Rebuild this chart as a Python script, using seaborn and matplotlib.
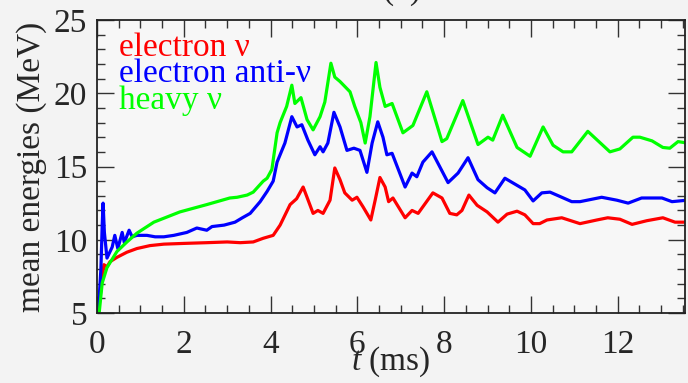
import numpy as np
import pandas as pd
import matplotlib
matplotlib.use("Agg")
import matplotlib.pyplot as plt
import seaborn as sns
from matplotlib.ticker import MultipleLocator

# ---- data ----
labels = ["electron \u03bd", "electron anti-\u03bd", "heavy \u03bd"]
colors = ["#ff0000", "#0000ff", "#00ff00"]

t_e = [0.03, 0.12, 0.16, 0.23, 0.30, 0.46, 0.69, 0.92, 1.22, 1.54, 2.0, 2.53, 3.0, 3.3,
       3.6, 3.83, 4.06, 4.22, 4.45, 4.6, 4.75, 4.84, 4.98, 5.09, 5.21, 5.37, 5.48, 5.6,
       5.71, 5.88, 5.99, 6.13, 6.31, 6.41, 6.52, 6.64, 6.72, 6.82, 7.1, 7.26, 7.4, 7.74,
       7.95, 8.13, 8.29, 8.41, 8.57, 8.76, 8.99, 9.24, 9.45, 9.68, 9.86, 10.05, 10.2,
       10.37, 10.71, 11.13, 11.52, 11.77, 12.05, 12.33, 12.67, 13.04, 13.32, 13.6]
E_e = [5.0, 7.4, 8.3, 8.15, 8.5, 8.8, 9.15, 9.4, 9.6, 9.7, 9.75, 9.8, 9.85, 9.8,
       9.85, 10.1, 10.3, 11.0, 12.4, 12.8, 13.6, 12.9, 11.8, 12.0, 11.8, 12.7, 14.9, 14.1,
       13.2, 12.7, 12.9, 12.25, 11.35, 12.7, 14.25, 13.6, 12.6, 12.85, 11.5, 12.0, 11.8, 13.2,
       12.85, 11.8, 11.7, 12.0, 13.05, 12.35, 11.9, 11.2, 11.75, 11.95, 11.7, 11.1, 11.1,
       11.35, 11.5, 11.1, 11.35, 11.5, 11.4, 11.05, 11.3, 11.5, 11.2, 11.2]

t_a = [0.03, 0.09, 0.12, 0.14, 0.17, 0.23, 0.35, 0.41, 0.48, 0.58, 0.63, 0.74, 0.81, 0.92,
       1.15, 1.34, 1.54, 1.77, 2.07, 2.3, 2.53, 2.65, 2.93, 3.18, 3.35, 3.53, 3.76, 3.92,
       4.06, 4.15, 4.33, 4.49, 4.61, 4.72, 4.86, 5.02, 5.14, 5.21, 5.32, 5.46, 5.6, 5.76,
       5.92, 6.06, 6.22, 6.34, 6.47, 6.59, 6.68, 6.8, 7.1, 7.26, 7.37, 7.51, 7.72, 8.09,
       8.32, 8.55, 8.78, 8.99, 9.17, 9.4, 9.86, 10.05, 10.25, 10.44, 10.71, 10.94, 11.13,
       11.63, 11.98, 12.24, 12.55, 13.02, 13.25, 13.6]
E_a = [5.0, 8.0, 11.0, 12.5, 10.5, 8.75, 9.5, 10.3, 9.4, 10.5, 9.8, 10.65, 10.2, 10.3,
       10.3, 10.2, 10.2, 10.3, 10.5, 10.8, 10.65, 10.9, 11.0, 11.2, 11.5, 11.8, 12.6, 13.3,
       14.0, 15.3, 16.6, 18.4, 17.7, 17.85, 16.8, 15.8, 16.35, 16.0, 16.6, 18.7, 17.7, 16.1,
       16.25, 16.1, 14.6, 16.6, 18.05, 17.0, 15.8, 15.9, 13.6, 14.55, 14.3, 15.3, 16.0, 13.9,
       14.55, 15.6, 14.1, 13.55, 13.2, 14.2, 13.4, 12.65, 13.2, 13.25, 12.9, 12.6, 12.6,
       12.9, 12.7, 12.5, 12.85, 12.85, 12.6, 12.7]

t_h = [0.05, 0.12, 0.23, 0.46, 0.69, 0.92, 1.31, 1.91, 2.53, 3.06, 3.23, 3.46, 3.6, 3.83,
       3.92, 4.03, 4.15, 4.22, 4.37, 4.49, 4.56, 4.7, 4.84, 4.98, 5.14, 5.25, 5.39, 5.48,
       5.6, 5.83, 5.94, 6.08, 6.18, 6.29, 6.43, 6.52, 6.64, 6.8, 7.05, 7.28, 7.6, 7.95,
       8.06, 8.43, 8.78, 9.01, 9.12, 9.35, 9.68, 9.98, 10.28, 10.51, 10.74, 10.94, 11.31,
       11.82, 12.05, 12.35, 12.51, 12.79, 13.04, 13.2, 13.39, 13.6]
E_h = [5.0, 7.05, 8.1, 9.2, 9.85, 10.45, 11.2, 11.9, 12.4, 12.85, 12.9, 13.05, 13.25, 14.0,
       14.2, 14.8, 17.3, 18.0, 19.1, 20.55, 19.3, 19.7, 18.2, 17.5, 18.4, 19.4, 22.05, 21.1,
       20.8, 20.1, 19.1, 18.0, 16.6, 18.4, 22.1, 20.4, 19.1, 19.3, 17.3, 17.8, 20.1, 16.7,
       16.9, 19.5, 16.5, 17.0, 16.8, 18.5, 16.3, 15.7, 17.7, 16.45, 16.0, 16.0, 17.4,
       16.0, 16.2, 17.0, 17.0, 16.75, 16.3, 16.25, 16.7, 16.6]

df = pd.concat([
    pd.DataFrame({"t": t_e, "E": E_e, "species": labels[0]}),
    pd.DataFrame({"t": t_a, "E": E_a, "species": labels[1]}),
    pd.DataFrame({"t": t_h, "E": E_h, "species": labels[2]}),
], ignore_index=True)

sns.set_style("ticks")
plt.rcParams["font.family"] = ["Liberation Serif", "DejaVu Serif"]
plt.rcParams["mathtext.fontset"] = "custom"
plt.rcParams["mathtext.it"] = "Liberation Serif:italic"
plt.rcParams["mathtext.rm"] = "Liberation Serif"

FS = 24
fig = plt.figure(figsize=(6.88, 3.83), dpi=100, facecolor="#f3f3f3")
ax = fig.add_axes([97 / 688, 1 - 313 / 383, (685 - 97) / 688, (313 - 20) / 383])
ax.set_facecolor("#f7f7f7")

sns.lineplot(data=df, x="t", y="E", hue="species", hue_order=labels,
             palette=dict(zip(labels, colors)), linewidth=2.3, sort=True,
             estimator=None, ax=ax)

ax.set_xlim(0, 13.55)
ax.set_ylim(5, 25)
ax.xaxis.set_major_locator(MultipleLocator(2))
ax.xaxis.set_minor_locator(MultipleLocator(0.5))
ax.yaxis.set_major_locator(MultipleLocator(5))
ax.yaxis.set_minor_locator(MultipleLocator(1))
ax.tick_params(which="both", direction="in", top=True, right=True,
               width=1.0, color="#333333", labelsize=FS)
ax.tick_params(which="major", length=12)
ax.tick_params(which="minor", length=6)
ax.tick_params(axis="x", which="major", pad=12)
ax.tick_params(axis="y", which="major", pad=7)
for s in ax.spines.values():
    s.set_linewidth(1.3)
    s.set_color("#222222")

ax.set_xlabel(r"$\mathit{t}$ (ms)", fontsize=FS, labelpad=-11)
ax.set_ylabel("mean energies (MeV)", fontsize=FS, labelpad=5)

leg = ax.legend(loc="upper left", bbox_to_anchor=(0.0374, 0.959), frameon=False,
                handlelength=0, handletextpad=0, labelcolor="linecolor", fontsize=FS,
                borderaxespad=0, borderpad=0, labelspacing=-0.12)
for h in leg.legend_handles:
    h.set_visible(False)

fig.text(0.585, 1.0 + 1 / 383, "(b)", fontsize=FS, ha="center", va="baseline")

fig.savefig("out.png", dpi=100, facecolor=fig.get_facecolor())
